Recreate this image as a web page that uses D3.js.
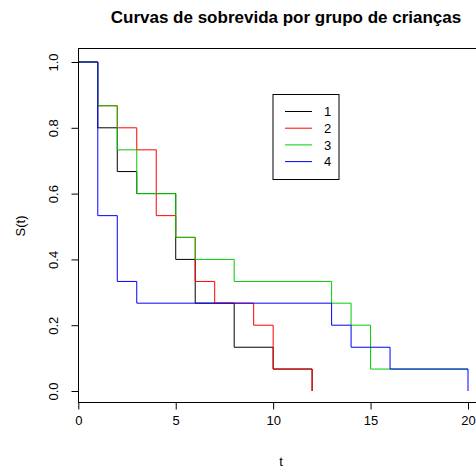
<!DOCTYPE html>
<html>
<head>
<meta charset="utf-8">
<script src="https://cdn.jsdelivr.net/npm/d3@7"></script>
<style>
  body { margin: 0; background: white; }
  text { font-family: "Liberation Sans", Arial, sans-serif; }
</style>
</head>
<body>
<svg width="476" height="471"></svg>
<script>
// step curves, one per group (time where each new level starts)
var groups = ['1', '2', '3', '4'];
var colors = ['#000000', '#FF0000', '#00CD00', '#0000FF'];
var times1 = [0, 1, 2, 3, 5, 6, 8, 10, 12];
var surv1  = [1, 0.8, 0.667, 0.6, 0.4, 0.267, 0.133, 0.0667, 0];
var times2 = [0, 1, 2, 3, 4, 5, 6, 7, 9, 10, 12];
var surv2  = [1, 0.867, 0.8, 0.733, 0.533, 0.467, 0.333, 0.267, 0.2, 0.0667, 0];
var times3 = [0, 1, 2, 3, 5, 6, 8, 13, 14, 15, 20];
var surv3  = [1, 0.867, 0.733, 0.6, 0.467, 0.4, 0.333, 0.267, 0.2, 0.0667, 0.0667];
var times4 = [0, 1, 2, 3, 13, 14, 16, 20];
var surv4  = [1, 0.533, 0.333, 0.267, 0.2, 0.133, 0.0667, 0];
var xTicks = [0, 5, 10, 15, 20];
var yTicks = [0, 0.2, 0.4, 0.6, 0.8, 1.0];

var curves = [[times1, surv1], [times2, surv2], [times3, surv3], [times4, surv4]];

var svg = d3.select('svg');
var x = d3.scaleLinear().domain([0, 20]).range([78.3, 468]);
var y = d3.scaleLinear().domain([0, 1]).range([391, 62]);
var box = {left: 78.5, top: 48.5, right: 484, bottom: 402.5};

// curves
var line = d3.line().x(d => x(d[0])).y(d => y(d[1])).curve(d3.curveStepAfter);
curves.forEach((c, i) => {
    var pts = c[0].map((t, j) => [t, c[1][j]]);
    svg.append('path')
        .attr('d', line(pts))
        .attr('fill', 'none')
        .attr('stroke', colors[i])
        .attr('stroke-width', 1);
});

// box
svg.append('rect')
    .attr('x', box.left).attr('y', box.top)
    .attr('width', box.right - box.left).attr('height', box.bottom - box.top)
    .attr('fill', 'none').attr('stroke', 'black').attr('stroke-width', 1);

// x axis
var xAxis = d3.axisBottom(x).tickValues(xTicks).tickSize(7).tickPadding(6).tickFormat(d3.format('d'));
var gx = svg.append('g').attr('transform', 'translate(0,' + box.bottom + ')').call(xAxis);
gx.select('.domain').remove();
gx.selectAll('text').attr('font-size', 13).attr('fill', 'black').attr('font-family', '"Liberation Sans", Arial, sans-serif');

// y axis
var yAxis = d3.axisLeft(y).tickValues(yTicks).tickSize(7).tickFormat(d3.format('.1f'));
var gy = svg.append('g').attr('transform', 'translate(' + box.left + ',0)').call(yAxis);
gy.select('.domain').remove();
gy.selectAll('text')
    .attr('font-size', 13).attr('fill', 'black').attr('font-family', '"Liberation Sans", Arial, sans-serif')
    .attr('text-anchor', 'middle').attr('dy', null)
    .attr('x', null)
    .attr('transform', d => 'translate(-20.5,0) rotate(-90)')
    .attr('y', 0);

// labels
svg.append('text').attr('x', 286).attr('y', 22.5)
    .attr('text-anchor', 'middle').attr('font-size', 17).attr('font-weight', 'bold')
    .text('Curvas de sobrevida por grupo de crianças');
svg.append('text').attr('x', 281).attr('y', 466)
    .attr('text-anchor', 'middle').attr('font-size', 13).text('t');
svg.append('text').attr('transform', 'translate(25,226) rotate(-90)')
    .attr('text-anchor', 'middle').attr('font-size', 13).text('S(t)');

// legend
var lg = svg.append('g');
lg.append('rect').attr('x', 273).attr('y', 94.5).attr('width', 66).attr('height', 85)
    .attr('fill', 'white').attr('stroke', 'black').attr('stroke-width', 1);
groups.forEach((g, i) => {
    var yy = 111.5 + i * 16.7;
    lg.append('line').attr('x1', 285).attr('x2', 312).attr('y1', yy).attr('y2', yy)
        .attr('stroke', colors[i]).attr('stroke-width', 1);
    lg.append('text').attr('x', 324).attr('y', yy + 4.7).attr('font-size', 13).text(g);
});
</script>
</body>
</html>
